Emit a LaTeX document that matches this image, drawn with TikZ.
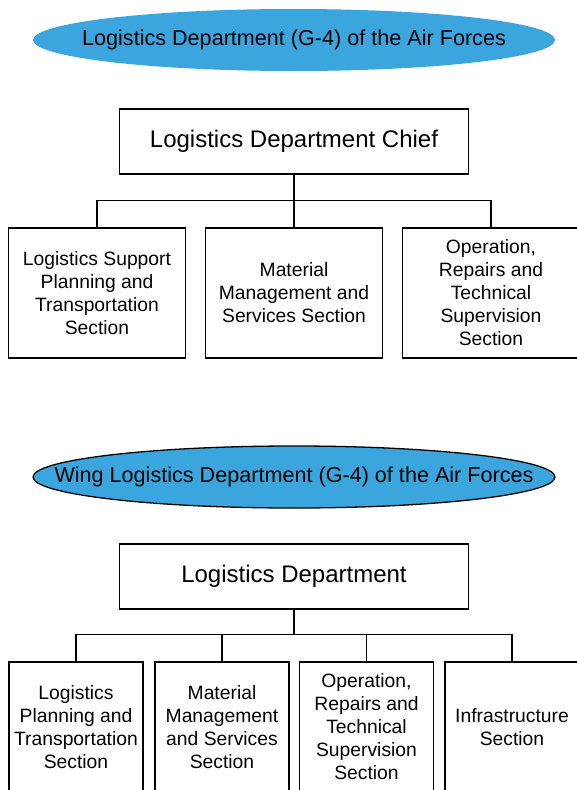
\documentclass[tikz,border=0pt]{standalone}
\usepackage{fontspec}
\setmainfont{Liberation Sans}
\usetikzlibrary{positioning, shapes.geometric}

\definecolor{airblue}{RGB}{59,165,221}

\begin{document}
\begin{tikzpicture}[
    x=1pt, y=-1pt,
    on grid,
    line width=1.3pt,
    head/.style={ellipse, fill=airblue, inner sep=0pt,
        minimum width=522pt, minimum height=62pt},
    headtext/.style={font=\fontsize{21.6}{25}\selectfont},
    chief/.style={draw, rectangle, minimum width=349pt, minimum height=65pt,
        font=\fontsize{24}{28}\selectfont},
    section/.style={draw, rectangle, align=center, minimum height=130pt,
        font=\fontsize{19.3}{23}\selectfont},
    bigsec/.style={section, minimum width=177pt},
    smallsec/.style={section, minimum width=134pt},
]
    \useasboundingbox (0,0) rectangle (576,790);

    % Air Forces G-4
    \node[head, label={[headtext]center:Logistics Department (G-4) of the Air Forces}]
        (airhq) at (294,40) {};
    \node[chief, below=101.5pt of airhq] (chief) {Logistics Department Chief};

    \node[bigsec, below=151.5pt of chief]  (material) {Material\\Management and\\Services Section};
    \node[bigsec, left=197pt of material]  (support)  {Logistics Support\\Planning and\\Transportation\\Section};
    \node[bigsec, right=197pt of material] (repairs)  {Operation,\\Repairs and\\Technical\\Supervision\\Section};

    \coordinate[below=26pt of chief.south] (fork);
    \draw (chief.south) -- (fork);
    \foreach \sec in {support, material, repairs}
        \draw (fork) -| (\sec.north);

    % Wing G-4
    \node[head, draw=black, label={[headtext]center:Wing Logistics Department (G-4) of the Air Forces}]
        (winghq) at (294,477) {};
    \node[chief, below=99.5pt of winghq] (dept) {Logistics Department};

    \node[smallsec] (wplan)  at (76,727)  {Logistics\\Planning and\\Transportation\\Section};
    \node[smallsec, right=146pt of wplan]  (wmat)   {Material\\Management\\and Services\\Section};
    \node[smallsec, right=144.5pt of wmat] (wrep)   {Operation,\\Repairs and\\Technical\\Supervision\\Section};
    \node[smallsec, right=145.5pt of wrep] (winfra) {Infrastructure\\Section};

    \coordinate[below=25pt of dept.south] (wfork);
    \draw (dept.south) -- (wfork);
    \foreach \sec in {wplan, wmat, wrep, winfra}
        \draw (wfork) -| (\sec.north);
\end{tikzpicture}
\end{document}
